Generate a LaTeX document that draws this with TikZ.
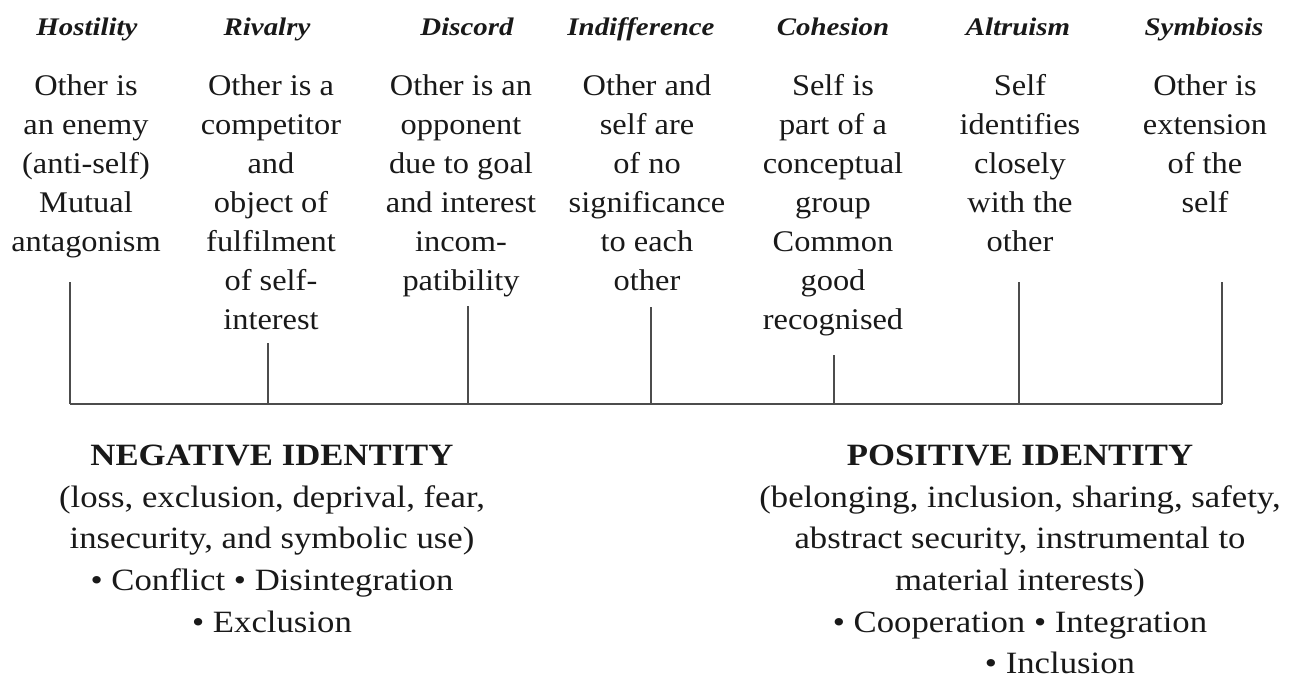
\documentclass[tikz,border=0pt]{standalone}
\usepackage{fontspec}
\setmainfont{Liberation Serif}
\newfontfamily\bodyfam[FakeStretch=1.08]{Liberation Serif}
\newfontfamily\idfam[FakeStretch=1.12]{Liberation Serif}
\newfontfamily\titlefam[FakeStretch=1.14]{Liberation Serif}
\begin{document}
\begin{tikzpicture}[x=0.75pt,y=-0.75pt,
  titlestyle/.style={inner sep=0pt, anchor=base, font=\titlefam\bfseries\itshape\fontsize{19}{22}\selectfont, text=black!90},
  bodystyle/.style={inner sep=0pt, anchor=north, align=center, font=\bodyfam\fontsize{22.5}{29.25}\selectfont, text=black!90},
  idstyle/.style={inner sep=0pt, anchor=north, align=center, font=\idfam\fontsize{23.25}{31.3}\selectfont, text=black!90},
  axisline/.style={line width=1.4pt, draw=black!70}]
\useasboundingbox (0,0) rectangle (1293,679);
% titles
\node[titlestyle] (h1) at (87,35) {Hostility};
\node[titlestyle] (h2) at (267,35) {Rivalry};
\node[titlestyle] (h3) at (467,35) {Discord};
\node[titlestyle] (h4) at (641,35) {Indifference};
\node[titlestyle] (h5) at (833,35) {Cohesion};
\node[titlestyle] (h6) at (1018,35) {Altruism};
\node[titlestyle] (h7) at (1204,35) {Symbiosis};
% descriptions
\node[bodystyle] (d1) at (86,67.7) {\strut Other is\\an enemy\\(anti-self)\\Mutual\\antagonism};
\node[bodystyle] (d2) at (271,67.7) {\strut Other is a\\competitor\\and\\object of\\fulfilment\\of self-\\interest};
\node[bodystyle] (d3) at (461,67.7) {\strut Other is an\\opponent\\due to goal\\and interest\\incom-\\patibility};
\node[bodystyle] (d4) at (647,67.7) {\strut Other and\\self are\\of no\\significance\\to each\\other};
\node[bodystyle] (d5) at (833,67.7) {\strut Self is\\part of a\\conceptual\\group\\Common\\good\\recognised};
\node[bodystyle] (d6) at (1020,67.7) {\strut Self\\identifies\\closely\\with the\\other};
\node[bodystyle] (d7) at (1205,67.7) {\strut Other is\\extension\\of the\\self};
% connector ends
\coordinate (t1) at (70,282);  \coordinate (b1) at (70,404);
\coordinate (t2) at (268,343); \coordinate (b2) at (268,404);
\coordinate (t3) at (468,306); \coordinate (b3) at (468,404);
\coordinate (t4) at (651,307); \coordinate (b4) at (651,404);
\coordinate (t5) at (834,355); \coordinate (b5) at (834,404);
\coordinate (t6) at (1019,282); \coordinate (b6) at (1019,404);
\coordinate (t7) at (1222,282); \coordinate (b7) at (1222,404);
\draw[axisline] (t1) -- (b1);
\draw[axisline] (t2) -- (b2);
\draw[axisline] (t3) -- (b3);
\draw[axisline] (t4) -- (b4);
\draw[axisline] (t5) -- (b5);
\draw[axisline] (t6) -- (b6);
\draw[axisline] (t7) -- (b7);
\draw[axisline] (b1) -- (b7);
% identity blocks
\node[idstyle] (neg) at (272,435.8) {\strut\textbf{NEGATIVE IDENTITY}\\(loss, exclusion, deprival, fear,\\insecurity, and symbolic use)\\• Conflict • Disintegration\\• Exclusion};
\node[idstyle] (pos) at (1020,435.8) {\strut\textbf{POSITIVE IDENTITY}\\(belonging, inclusion, sharing, safety,\\abstract security, instrumental to\\material interests)\\• Cooperation • Integration\\\hspace*{60pt}• Inclusion};
\end{tikzpicture}
\end{document}
